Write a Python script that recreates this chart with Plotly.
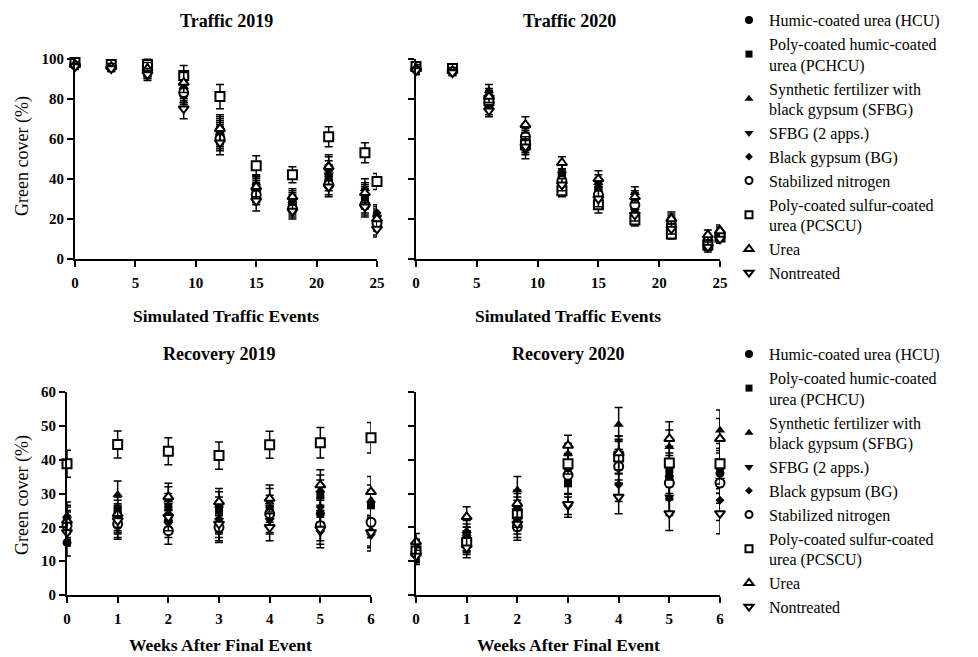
import plotly.graph_objects as go

# ---------------- data ----------------
TRAFFIC_EVENTS = [0, 3, 6, 9, 12, 15, 18, 21, 24, 25]
WEEKS = [0, 1, 2, 3, 4, 5, 6]

SERIES_NAMES = [
    "Humic-coated urea (HCU)",
    "Poly-coated humic-coated<br>urea (PCHCU)",
    "Synthetic fertilizer with<br>black gypsum (SFBG)",
    "SFBG (2 apps.)",
    "Black gypsum (BG)",
    "Stabilized nitrogen",
    "Poly-coated sulfur-coated<br>urea (PCSCU)",
    "Urea",
    "Nontreated",
]

# Traffic 2019 (green cover %)
T19_HCU = [97, 96, 93, 82, 62, 34, 27, 39, 28, 16]
T19_PCHCU = [98, 97, 94, 83, 64, 36, 28, 41, 30, 19]
T19_SFBG = [97, 96, 94, 86, 66, 35, 29, 47, 35, 22]
T19_SFBG2 = [97, 95, 93, 84, 61, 33, 26, 42, 31, 21]
T19_BG = [97, 96, 94, 83, 63, 37, 30, 44, 32, 23]
T19_SN = [97, 96, 95, 83, 60, 32, 25, 37, 27, 18]
T19_PCSCU = [98, 97, 97, 91.5, 81, 46.5, 42, 61, 53, 38.7]
T19_UREA = [97, 96, 95, 88, 65, 36, 31, 46, 33, 20]
T19_NT = [96, 95, 92, 75, 58, 29, 24, 36, 26, 15]
T19_ERR = [1.5, 1.5, 3, 5, 6, 5, 4, 5, 5, 4]

# Traffic 2020
T20_HCU = [95, 94, 77, 58, 40, 33, 26, 16, 8, 12]
T20_PCHCU = [96, 95, 80, 60, 41, 34, 28, 18, 7, 11]
T20_SFBG = [95, 94, 84, 62, 44, 38, 33, 21, 9, 15]
T20_SFBG2 = [94, 93, 75, 54, 38, 31, 24, 14, 7, 10]
T20_BG = [95, 94, 82, 59, 42, 36, 30, 19, 8, 13]
T20_SN = [95, 94, 78, 61, 39, 32, 27, 17, 9, 12]
T20_PCSCU = [96, 95, 79, 57, 34, 27, 19.5, 12.5, 7, 11]
T20_UREA = [95, 94, 81, 67, 48, 40, 31, 20, 12, 14]
T20_NT = [94, 93, 74, 56, 37, 30, 22, 15, 6, 10]
T20_ERR = [2, 1.5, 3, 4, 3, 4, 3, 2.5, 2.5, 2]

# Recovery 2019
R19_HCU = [15.5, 20.5, 22, 19.5, 24.5, 24, 21.5]
R19_PCHCU = [21, 25, 26, 25, 25.5, 29.5, 26.5]
R19_SFBG = [23.5, 29.7, 28, 26.5, 27.5, 31, 28]
R19_SFBG2 = [19.5, 22.5, 21, 22, 22, 18.5, 17.5]
R19_BG = [22.5, 23, 24, 22.5, 22.5, 26, 19]
R19_SN = [20.5, 21, 19, 20, 24, 20.5, 21.5]
R19_PCSCU = [38.8, 44.5, 42.5, 41.2, 44.4, 45, 46.5]
R19_UREA = [22, 24, 29, 27.5, 28.5, 32.5, 30.5]
R19_NT = [18.5, 22, 23, 21, 20, 19.5, 18.5]
R19_ERR = [4, 4, 4, 4, 4, 4.5, 4.5]

# Recovery 2020
R20_HCU = [12.5, 15, 23, 35.5, 38, 35, 36]
R20_PCHCU = [13, 16, 25, 33, 41, 37, 37.4]
R20_SFBG = [14, 19, 31, 41.8, 50.4, 43.8, 48.7]
R20_SFBG2 = [12, 17, 22, 26, 42, 29, 34]
R20_BG = [13.5, 18, 26, 37, 32.6, 28.5, 28]
R20_SN = [12.5, 16, 20.2, 35.4, 38, 33.1, 33.1]
R20_PCSCU = [13, 15.5, 24, 38.8, 40.8, 39, 38.8]
R20_UREA = [15.7, 23.1, 27, 44.2, 42, 46.2, 46.2]
R20_NT = [11.5, 14, 21, 26.8, 29, 24.1, 24.1]
R20_ERR = [2.5, 3, 4, 3, 5, 5, 6]

# ---------------- styles ----------------
SYMBOLS = ["circle", "square", "triangle-up", "triangle-down", "diamond",
           "circle", "square", "triangle-up", "triangle-down"]
FILLS = ["black"] * 5 + ["white"] * 4
SIZES = [9, 8, 9, 9, 7, 9, 9, 9, 9]
LEG_SIZES = [8, 7, 8, 8, 6, 7, 7, 8, 8]

# the page body adds an 8 px margin; lay out in window pixel coordinates
OFF = 8
W, H = 978 - OFF, 657 - OFF
FONT = "Liberation Serif, Times New Roman, serif"


def px(x):
    return (x - OFF) / W


def py(y):
    return 1 - (y - OFF) / H


panels = [
    ("x", "y", TRAFFIC_EVENTS,
     [T19_HCU, T19_PCHCU, T19_SFBG, T19_SFBG2, T19_BG, T19_SN, T19_PCSCU, T19_UREA, T19_NT],
     T19_ERR, "legend", True),
    ("x2", "y2", TRAFFIC_EVENTS,
     [T20_HCU, T20_PCHCU, T20_SFBG, T20_SFBG2, T20_BG, T20_SN, T20_PCSCU, T20_UREA, T20_NT],
     T20_ERR, "legend", False),
    ("x3", "y3", WEEKS,
     [R19_HCU, R19_PCHCU, R19_SFBG, R19_SFBG2, R19_BG, R19_SN, R19_PCSCU, R19_UREA, R19_NT],
     R19_ERR, "legend2", True),
    ("x4", "y4", WEEKS,
     [R20_HCU, R20_PCHCU, R20_SFBG, R20_SFBG2, R20_BG, R20_SN, R20_PCSCU, R20_UREA, R20_NT],
     R20_ERR, "legend2", False),
]

fig = go.Figure()
for xa, ya, xs, series, err, leg, showleg in panels:
    for i, ys in enumerate(series):
        fig.add_trace(go.Scatter(
            x=xs, y=ys, mode="markers", name=SERIES_NAMES[i],
            xaxis=xa, yaxis=ya, showlegend=False,
            cliponaxis=False,
            marker=dict(symbol=SYMBOLS[i], size=SIZES[i], color=FILLS[i],
                        line=dict(color="black", width=2 if FILLS[i] == "white" else 0)),
            error_y=dict(type="data", array=err, visible=True, color="black",
                         thickness=1.5, width=4),
        ))
    if showleg:
        # legend entries (smaller symbols, as in the original legend)
        for i in range(len(SERIES_NAMES)):
            fig.add_trace(go.Scatter(
                x=[None], y=[None], mode="markers", name=SERIES_NAMES[i],
                xaxis=xa, yaxis=ya, legend=leg, showlegend=True,
                marker=dict(symbol=SYMBOLS[i], size=LEG_SIZES[i], color=FILLS[i],
                            line=dict(color="black",
                                      width=2 if FILLS[i] == "white" else 0)),
            ))

axis_common = dict(showline=True, linecolor="black", linewidth=2, ticks="outside",
                   ticklen=6, tickwidth=2, tickcolor="black", showgrid=False,
                   zeroline=False, automargin=False,
                   tickfont=dict(family=FONT, size=15, color="black", weight="bold"),
                   fixedrange=True)
x_common = dict(axis_common, ticklabelstandoff=3)

top_y = [py(259), py(58.5)]
bot_y = [py(595), py(392)]

fig.update_layout(
    width=W, height=H, paper_bgcolor="white", plot_bgcolor="white",
    margin=dict(l=0, r=0, t=0, b=0, autoexpand=False),
    font=dict(family=FONT, color="black"),
    xaxis=dict(domain=[px(75), px(377)], range=[0, 25], tickvals=[0, 5, 10, 15, 20, 25],
               anchor="y", **x_common),
    yaxis=dict(domain=top_y, range=[0, 100], tickvals=[0, 20, 40, 60, 80, 100],
               anchor="x", **axis_common),
    xaxis2=dict(domain=[px(416), px(720)], range=[0, 25], tickvals=[0, 5, 10, 15, 20, 25],
                anchor="y2", **x_common),
    yaxis2=dict(domain=top_y, range=[0, 100], tickvals=[0, 20, 40, 60, 80, 100],
                anchor="x2", showticklabels=False, **axis_common),
    xaxis3=dict(domain=[px(67), px(371)], range=[0, 6], tickvals=WEEKS,
                anchor="y3", **x_common),
    yaxis3=dict(domain=bot_y, range=[0, 60], tickvals=[0, 10, 20, 30, 40, 50, 60],
                anchor="x3", **axis_common),
    xaxis4=dict(domain=[px(416), px(720)], range=[0, 6], tickvals=WEEKS,
                anchor="y4", **x_common),
    yaxis4=dict(domain=bot_y, range=[0, 60], tickvals=[0, 10, 20, 30, 40, 50, 60],
                anchor="x4", showticklabels=False, **axis_common),
    legend=dict(x=px(729), y=py(3), xanchor="left", yanchor="top",
                font=dict(family=FONT, size=16, color="black"),
                bgcolor="rgba(0,0,0,0)", borderwidth=0),
    legend2=dict(x=px(729), y=py(337), xanchor="left", yanchor="top",
                 font=dict(family=FONT, size=16, color="black"),
                 bgcolor="rgba(0,0,0,0)", borderwidth=0),
)

annots = [
    ("<b>Traffic 2019</b>", 226, 21, 0, 18),
    ("<b>Traffic 2020</b>", 569, 21, 0, 18),
    ("<b>Recovery 2019</b>", 219, 354, 0, 18),
    ("<b>Recovery 2020</b>", 568, 354, 0, 18),
    ("<b>Simulated Traffic Events</b>", 226, 316, 0, 17.5),
    ("<b>Simulated Traffic Events</b>", 568, 316, 0, 17.5),
    ("<b>Weeks After Final Event</b>", 220, 645, 0, 17.5),
    ("<b>Weeks After Final Event</b>", 568, 645, 0, 17.5),
    ("Green cover (%)", 22, 156, -90, 18),
    ("Green cover (%)", 22, 495, -90, 18),
]
for text, x, y, ang, size in annots:
    fig.add_annotation(text=text, x=px(x), y=py(y), xref="paper", yref="paper",
                       xanchor="center", yanchor="middle", showarrow=False,
                       textangle=ang, font=dict(family=FONT, size=size, color="black"))

fig.write_html("out.html")
